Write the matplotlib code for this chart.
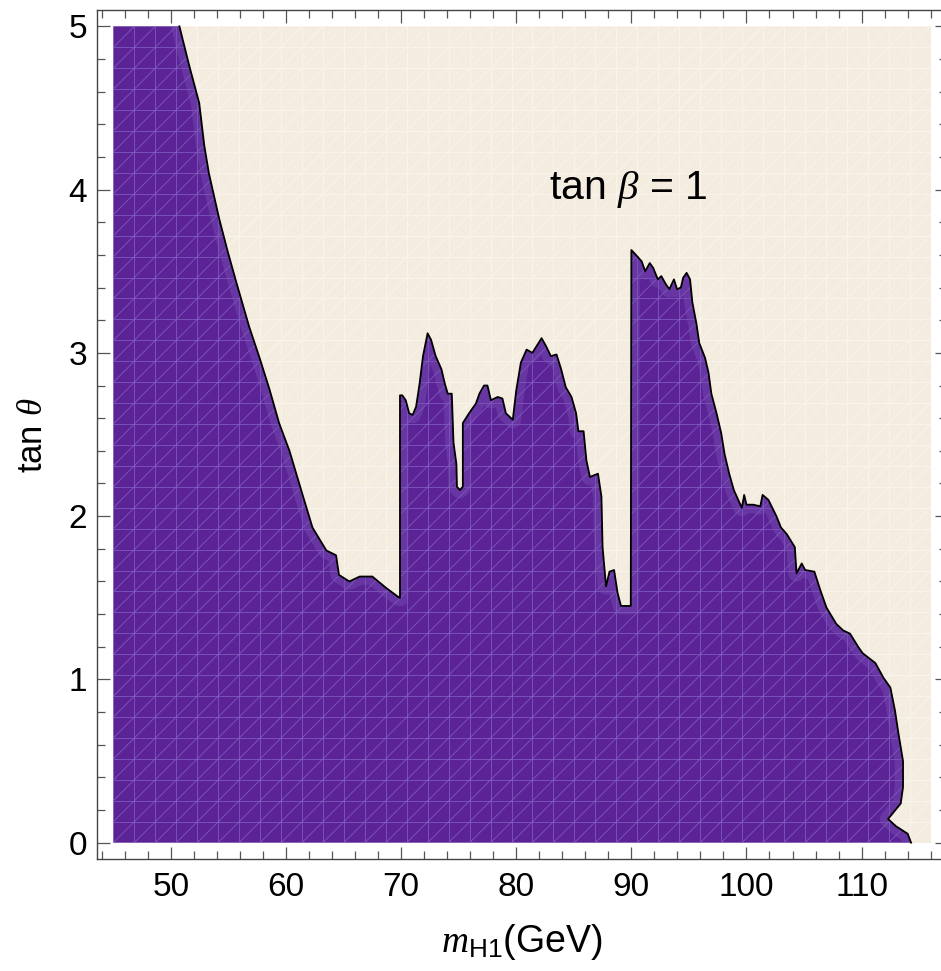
import numpy as np
import matplotlib.pyplot as plt
from matplotlib.collections import LineCollection
from matplotlib.patches import Polygon, Rectangle
from matplotlib.ticker import MultipleLocator

plt.rcParams['font.family'] = ['Liberation Sans', 'DejaVu Sans']
plt.rcParams['mathtext.fontset'] = 'custom'
plt.rcParams['mathtext.rm'] = 'Liberation Sans'
plt.rcParams['mathtext.it'] = 'Liberation Serif:italic'
plt.rcParams['mathtext.bf'] = 'Liberation Sans:bold'

# scanned range
m_lo, m_hi = 45.0, 116.0
t_lo, t_hi = 0.0, 5.0

# upper edge of the allowed region (m_H1, tan theta), left to right
edge_m = [50.74, 51.59, 52.46, 52.9, 53.3, 54.2, 54.9, 55.65, 56.8, 57.7,
          58.55, 59.4, 60.3, 61.4, 62.3, 63.5, 64.35, 64.6, 65.5, 66.4,
          67.5, 68.7, 69.85, 69.9, 69.9, 70.1, 70.4, 70.7, 71.0, 71.3,
          71.6, 71.9, 72.3, 72.6, 73.0, 73.5, 73.8, 74.05, 74.4, 74.55,
          74.8, 74.85, 75.1, 75.36, 75.36, 75.9, 76.5, 76.8, 77.2, 77.5,
          77.8, 78.4, 78.8, 79.1, 79.7, 80.0, 80.4, 80.9, 81.4, 82.2,
          82.6, 83.0, 83.5, 83.9, 84.3, 84.8, 85.2, 85.4, 85.85, 86.1,
          86.4, 87.1, 87.4, 87.5, 87.8, 88.1, 88.5, 88.8, 89.1, 89.95,
          90.0, 90.4, 90.9, 91.2, 91.6, 91.9, 92.3, 92.6, 93.0, 93.3,
          93.7, 93.97, 94.3, 94.5, 94.8, 95.1, 95.3, 95.65, 95.9, 96.4,
          96.7, 96.95, 97.4, 97.8, 98.1, 98.5, 98.9, 99.6, 99.8, 100.0,
          100.6, 101.2, 101.4, 101.9, 102.6, 103.0, 103.5, 104.2, 104.35, 104.8,
          105.1, 105.9, 106.4, 106.95, 107.8, 108.4, 109.0, 109.7, 110.1, 111.2,
          111.9, 112.5, 112.9, 113.2, 113.6, 113.6, 113.4, 112.3, 113.0, 114.0,
          114.3]
edge_t = [5.00, 4.76, 4.53, 4.27, 4.10, 3.82, 3.63, 3.44, 3.16, 2.97,
          2.78, 2.57, 2.40, 2.14, 1.93, 1.79, 1.76, 1.64, 1.60, 1.63,
          1.63, 1.56, 1.50, 1.50, 2.74, 2.74, 2.71, 2.63, 2.62, 2.67,
          2.81, 2.98, 3.12, 3.08, 2.98, 2.90, 2.81, 2.75, 2.75, 2.45,
          2.32, 2.18, 2.16, 2.18, 2.57, 2.63, 2.69, 2.75, 2.80, 2.80,
          2.71, 2.73, 2.72, 2.63, 2.59, 2.77, 2.94, 3.02, 3.00, 3.09,
          3.04, 2.98, 2.99, 2.90, 2.79, 2.73, 2.63, 2.52, 2.52, 2.34,
          2.24, 2.26, 2.12, 1.81, 1.57, 1.66, 1.67, 1.53, 1.45, 1.45,
          3.63, 3.60, 3.56, 3.50, 3.55, 3.52, 3.45, 3.47, 3.42, 3.39,
          3.45, 3.39, 3.40, 3.46, 3.49, 3.45, 3.31, 3.18, 3.06, 2.97,
          2.88, 2.75, 2.63, 2.51, 2.38, 2.26, 2.16, 2.05, 2.13, 2.07,
          2.07, 2.06, 2.13, 2.10, 2.00, 1.93, 1.89, 1.81, 1.65, 1.71,
          1.67, 1.66, 1.55, 1.44, 1.34, 1.30, 1.28, 1.20, 1.16, 1.10,
          1.01, 0.95, 0.81, 0.67, 0.50, 0.34, 0.24, 0.145, 0.10, 0.055,
          0.0]

x_ticks = [50, 60, 70, 80, 90, 100, 110]
y_ticks = [0, 1, 2, 3, 4, 5]

purple = '#5b2396'
beige = '#f3ecdf'


def mesh(n=39):
    xs = np.linspace(m_lo, m_hi, n + 1)
    ys = np.linspace(t_lo, t_hi, n + 1)
    dx = xs[1] - xs[0]
    segs = [[(x, t_lo), (x, t_hi)] for x in xs]
    segs += [[(m_lo, y), (m_hi, y)] for y in ys]
    for k in range(-n, n):
        segs.append([(m_lo + k * dx, t_lo), (m_lo + (k + n) * dx, t_hi)])
    return segs


fig = plt.figure(figsize=(9.41, 9.71), dpi=100)
ax = fig.add_axes([97 / 941, 1 - 859 / 971, 850 / 941, 849 / 971])
ax.set_xlim(43.58, 117.42)
ax.set_ylim(-0.1, 5.1)

frame = Rectangle((m_lo, t_lo), m_hi - m_lo, t_hi - t_lo, fc=beige, ec='none', zorder=0)
ax.add_patch(frame)
bg_mesh = LineCollection(mesh(), colors='#f9f5ee', linewidths=0.6, zorder=1)
ax.add_collection(bg_mesh)
bg_mesh.set_clip_path(frame)

verts = [(m_lo, t_lo), (m_lo, t_hi)] + list(zip(edge_m, edge_t))
region = Polygon(verts, closed=True, fc=purple, ec='none', zorder=2)
ax.add_patch(region)

fg_mesh = LineCollection(mesh(), colors='#8463c2', linewidths=0.6, alpha=0.85, zorder=3)
ax.add_collection(fg_mesh)
fg_mesh.set_clip_path(region)

# finer sampling along the edge shows up as a lighter band
band, = ax.plot(edge_m, edge_t, color='#7d55b8', lw=12, alpha=0.4, zorder=3,
                solid_joinstyle='round', solid_capstyle='round')
band.set_clip_path(region)

ax.plot(edge_m, edge_t, color='black', lw=1.3, zorder=4)

ax.text(89.72, 3.94, r'tan $\beta$ = 1', fontsize=29.5, ha='center', va='baseline', zorder=5)

ax.set_xticks(x_ticks)
ax.set_yticks(y_ticks)
ax.xaxis.set_minor_locator(MultipleLocator(2))
ax.yaxis.set_minor_locator(MultipleLocator(0.2))
ax.tick_params(which='both', direction='in', top=True, right=True, color='#555555')
ax.tick_params(which='major', length=9, width=0.9, labelsize=24)
ax.tick_params(axis='x', which='major', pad=9)
ax.tick_params(axis='y', which='major', pad=7)
ax.tick_params(which='minor', length=6, width=0.9)
for s in ax.spines.values():
    s.set_color('#444444')
    s.set_linewidth(1.0)

ax.set_xlabel(r'$m_{\mathrm{H1}}$(GeV)', fontsize=27, labelpad=14)
ax.set_ylabel(r'tan $\theta$', fontsize=25, labelpad=14)

fig.savefig('out.png', dpi=100)
